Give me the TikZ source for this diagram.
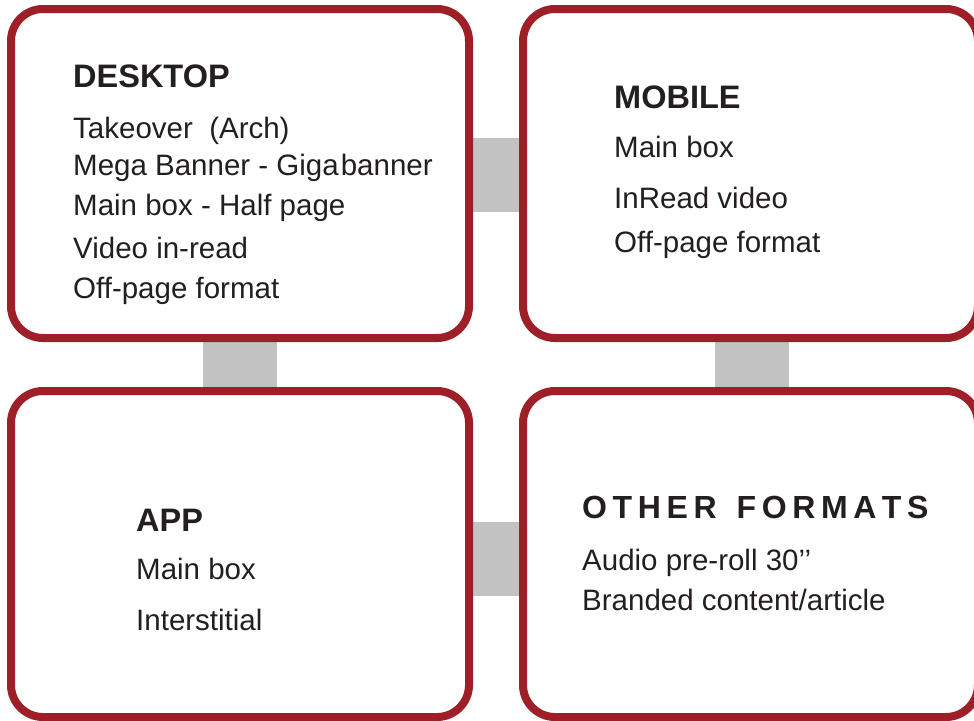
\documentclass[tikz,border=0pt]{standalone}
\usepackage{fontspec}
\setmainfont{Liberation Sans}
\usetikzlibrary{backgrounds}
\definecolor{boxred}{HTML}{9E1F27}
\definecolor{conngray}{HTML}{C2C2C2}
\definecolor{txt}{HTML}{231F20}
\newcommand{\lsp}{\hspace{5.6pt}}
\begin{document}
\begin{tikzpicture}[x=1pt,y=-1pt,
  box/.style={draw=boxred, line width=8pt, fill=white, rounded corners=32pt, inner sep=0pt},
  conn/.style={draw=conngray, line width=74pt},
  head/.style={anchor=base west, inner sep=0pt, text=txt, font=\fontsize{32.5}{38}\selectfont\bfseries},
  item/.style={anchor=base west, inner sep=0pt, text=txt, font=\fontsize{29.5}{35}\selectfont}]
\useasboundingbox (0,0) rectangle (974,720);
\clip (0,0) rectangle (974,720);
% boxes
\node[box, minimum width=458pt, minimum height=329pt] (desk) at (240,173.5) {};
\node[box, minimum width=455pt, minimum height=329pt] (mob) at (750.5,173.5) {};
\node[box, minimum width=458pt, minimum height=326pt] (app) at (240,554) {};
\node[box, minimum width=455pt, minimum height=326pt] (oth) at (750.5,554) {};
% connectors
\begin{scope}[on background layer]
\draw[conn] ([yshift=-1.5pt]desk.east) -- ([yshift=-1.5pt]mob.west);
\draw[conn] (desk.south) -- (app.north);
\draw[conn] ([xshift=1pt]mob.south) -- ([xshift=1pt]oth.north);
\draw[conn] ([yshift=-4.5pt]app.east) -- ([yshift=-4.5pt]oth.west);
\end{scope}
% DESKTOP
\node[head] (dh) at (73,87) {DESKTOP};
\node[item] (d1) at (73,138) {Takeover\ \ (Arch)};
\node[item] (d2) at (73,175) {Mega Banner - Giga\hspace{2pt}banner};
\node[item] (d3) at (73,215) {Main box - Half page};
\node[item] (d4) at (73,258) {Video in-read};
\node[item] (d5) at (73,298) {Off-page format};
% MOBILE
\node[head] (mh) at (614,108) {MOBILE};
\node[item] (m1) at (614,157) {Main box};
\node[item] (m2) at (614,208) {InRead video};
\node[item] (m3) at (614,252) {Off-page format};
% APP
\node[head] (ah) at (136,531) {APP};
\node[item] (a1) at (136,579) {Main box};
\node[item] (a2) at (136,630) {Interstitial};
% OTHER FORMATS
\node[head, font=\fontsize{32}{38}\selectfont\bfseries] (oh) at (582,518) {O\lsp T\lsp H\lsp E\lsp R\lsp\ \lsp F\lsp O\lsp R\lsp M\lsp A\lsp T\lsp S};
\node[item] (o1) at (582,570) {Audio pre-roll 30’’};
\node[item] (o2) at (582,610) {Branded content/article};
\end{tikzpicture}
\end{document}
